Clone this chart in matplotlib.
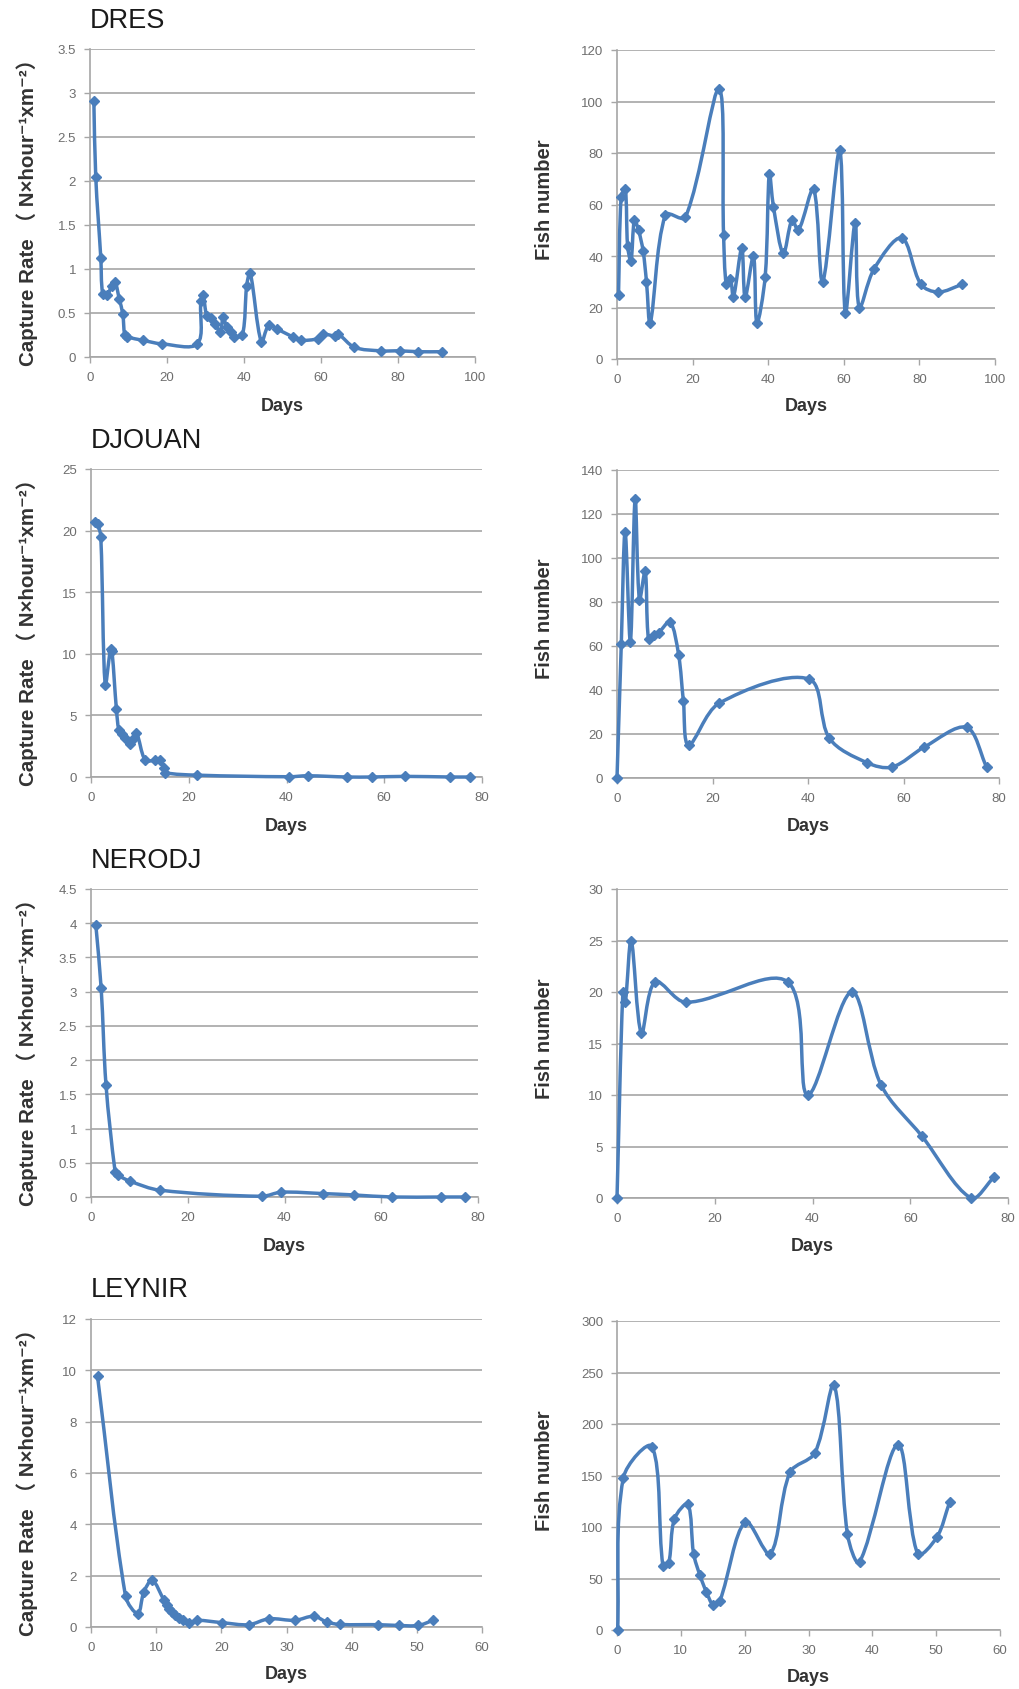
import numpy as np
import matplotlib
matplotlib.use('Agg')
import matplotlib.pyplot as plt
from matplotlib.path import Path
from matplotlib.patches import PathPatch
from matplotlib.ticker import FuncFormatter

# ---------------- DATA ----------------
dres_cr_days = [1.0, 1.5, 2.8, 3.3, 4.5, 5.6, 6.5, 7.6, 8.5, 9.0, 9.5, 13.7, 18.6, 27.9, 28.8, 29.4,
                30.3, 31.3, 32.5, 33.8, 34.6, 35.5, 36.5, 37.5, 39.6, 40.7, 41.6, 44.5, 46.4, 48.5,
                52.6, 54.7, 59.3, 60.4, 63.6, 64.5, 68.7, 75.6, 80.5, 85.3, 91.3]
dres_cr = [2.91, 2.04, 1.13, 0.72, 0.70, 0.81, 0.85, 0.66, 0.49, 0.25, 0.23, 0.19, 0.15, 0.15, 0.64, 0.70,
           0.47, 0.44, 0.38, 0.28, 0.45, 0.34, 0.28, 0.23, 0.25, 0.81, 0.96, 0.17, 0.36, 0.32,
           0.23, 0.19, 0.21, 0.26, 0.24, 0.26, 0.11, 0.07, 0.07, 0.06, 0.06]

dres_fish_days = [0.4, 1.1, 2.2, 2.8, 3.7, 4.6, 5.7, 6.9, 7.8, 8.8, 12.8, 18.1, 27.0, 28.2, 28.9, 30.0,
                  30.8, 33.0, 33.9, 36.1, 37.0, 39.2, 40.3, 41.4, 44.0, 46.3, 48.0, 52.0, 54.4, 58.9,
                  60.4, 63.0, 64.1, 68.0, 75.3, 80.4, 85.0, 91.4]
dres_fish = [25, 63, 66, 44, 38, 54, 50, 42, 30, 14, 56, 55, 105, 48, 29, 31,
             24, 43, 24, 40, 14, 32, 72, 59, 41, 54, 50, 66, 30, 81,
             18, 53, 20, 35, 47, 29, 26, 29]

djouan_cr_days = [0.9, 1.4, 2.0, 2.9, 4.0, 4.3, 5.2, 5.7, 6.3, 7.0, 7.9, 8.6, 9.3, 11.1, 13.0, 14.2,
                  14.9, 15.2, 21.7, 40.5, 44.3, 52.4, 57.5, 64.3, 73.5, 77.6]
djouan_cr = [20.7, 20.5, 19.5, 7.5, 10.4, 10.2, 5.5, 3.8, 3.5, 3.2, 2.7, 3.1, 3.6, 1.35, 1.35, 1.35,
             0.7, 0.35, 0.15, 0.02, 0.1, 0.0, 0.0, 0.05, 0.0, 0.0]

djouan_fish_days = [0.0, 0.9, 1.7, 2.8, 3.8, 4.7, 5.9, 6.6, 7.7, 8.7, 11.1, 12.9, 13.9, 15.0, 21.4,
                    40.2, 44.5, 52.3, 57.6, 64.3, 73.2, 77.4]
djouan_fish = [0, 61, 112, 62, 127, 81, 94, 63, 65, 66, 71, 56, 35, 15, 34,
               45, 18, 7, 5, 14, 23, 5]

nerodj_cr_days = [1.0, 2.1, 3.1, 5.0, 5.5, 8.1, 14.2, 35.3, 39.3, 48.0, 54.3, 62.3, 72.4, 77.4]
nerodj_cr = [3.97, 3.05, 1.64, 0.36, 0.32, 0.23, 0.10, 0.01, 0.07, 0.05, 0.03, 0.0, 0.0, 0.0]

nerodj_fish_days = [0.0, 1.2, 1.7, 2.9, 5.0, 7.8, 14.1, 34.9, 39.0, 48.0, 54.0, 62.4, 72.4, 77.1]
nerodj_fish = [0, 20, 19, 25, 16, 21, 19, 21, 10, 20, 11, 6, 0, 2]

leynir_cr_days = [1.0, 5.3, 7.2, 8.1, 9.4, 11.2, 11.6, 11.9, 12.4, 12.9, 13.5, 14.1, 15.1, 16.3, 20.1,
                  24.2, 27.3, 31.3, 34.2, 36.2, 38.2, 44.1, 47.2, 50.2, 52.5]
leynir_cr = [9.77, 1.2, 0.52, 1.36, 1.82, 1.04, 0.84, 0.71, 0.58, 0.45, 0.35, 0.26, 0.17, 0.26, 0.17,
             0.09, 0.32, 0.26, 0.42, 0.19, 0.10, 0.09, 0.06, 0.06, 0.26]

leynir_fish_days = [0.1, 1.0, 5.5, 7.2, 8.1, 9.0, 11.1, 12.0, 13.0, 14.0, 15.1, 16.1, 20.1, 24.0, 27.1,
                    31.0, 34.0, 36.1, 38.0, 44.0, 47.1, 50.1, 52.1]
leynir_fish = [0, 148, 178, 62, 65, 108, 122, 74, 53, 37, 24, 28, 105, 74, 153,
               172, 238, 93, 66, 180, 74, 90, 124]

site_names = ['DRES', 'DJOUAN', 'NERODJ', 'LEYNIR']

cr_xticks = [[0, 20, 40, 60, 80, 100], [0, 20, 40, 60, 80], [0, 20, 40, 60, 80], [0, 10, 20, 30, 40, 50, 60]]
cr_yticks = [[0, 0.5, 1, 1.5, 2, 2.5, 3, 3.5], [0, 5, 10, 15, 20, 25],
             [0, 0.5, 1, 1.5, 2, 2.5, 3, 3.5, 4, 4.5], [0, 2, 4, 6, 8, 10, 12]]
fish_xticks = [[0, 20, 40, 60, 80, 100], [0, 20, 40, 60, 80], [0, 20, 40, 60, 80], [0, 10, 20, 30, 40, 50, 60]]
fish_yticks = [[0, 20, 40, 60, 80, 100, 120], [0, 20, 40, 60, 80, 100, 120, 140],
               [0, 5, 10, 15, 20, 25, 30], [0, 50, 100, 150, 200, 250, 300]]

cr_series = [(dres_cr_days, dres_cr), (djouan_cr_days, djouan_cr),
             (nerodj_cr_days, nerodj_cr), (leynir_cr_days, leynir_cr)]
fish_series = [(dres_fish_days, dres_fish), (djouan_fish_days, djouan_fish),
               (nerodj_fish_days, nerodj_fish), (leynir_fish_days, leynir_fish)]

# ---------------- STYLE / LAYOUT ----------------
W, H = 1019, 1690
BLUE = '#4A7EBB'
GRID = '#A6A6A6'
TICK = '#6E6E6E'
LABEL_FONT = ['Liberation Sans', 'DejaVu Sans', 'Noto Sans CJK SC']

# (left, right, top, bottom) in pixels
cr_boxes = [(90, 475, 50, 358), (91, 482, 470, 778), (91, 478, 890, 1198), (91, 482, 1320, 1628)]
fish_boxes = [(617, 995, 51, 360), (617, 999, 471, 779), (617, 1008, 890, 1199), (617, 1000, 1322, 1631)]
title_y = [21, 441, 861, 1290]
days_y_cr = [407, 827, 1247, 1675]
days_y_fish = [407, 827, 1247, 1678]

fig = plt.figure(figsize=(W / 100, H / 100), dpi=100)
fig.patch.set_facecolor('white')


def add_ax(box):
    l, r, t, b = box
    return fig.add_axes([l / W, 1 - b / H, (r - l) / W, (b - t) / H])


def smooth_path(ax, box, xs, ys):
    l, r, t, b = box
    x0, x1 = ax.get_xlim()
    y0, y1 = ax.get_ylim()
    sx = (r - l) / (x1 - x0)
    sy = (b - t) / (y1 - y0)
    pts = np.column_stack([np.asarray(xs, float) * sx, np.asarray(ys, float) * sy])
    n = len(pts)
    verts = [pts[0]]
    codes = [Path.MOVETO]
    for i in range(n - 1):
        p0 = pts[i - 1] if i > 0 else pts[i]
        p1 = pts[i]
        p2 = pts[i + 1]
        p3 = pts[i + 2] if i + 2 < n else pts[i + 1]
        d01 = np.hypot(*(p1 - p0))
        d12 = np.hypot(*(p2 - p1))
        d23 = np.hypot(*(p3 - p2))
        c1 = p1 + (p2 - p0) * (d12 / (3 * (d01 + d12))) if d01 + d12 > 0 else p1
        c2 = p2 - (p3 - p1) * (d12 / (3 * (d12 + d23))) if d12 + d23 > 0 else p2
        verts += [c1, c2, p2]
        codes += [Path.CURVE4] * 3
    verts = np.array(verts)
    verts[:, 0] /= sx
    verts[:, 1] /= sy
    return Path(verts, codes)


def style_ax(ax, xticks, yticks):
    ax.set_xlim(xticks[0], xticks[-1])
    ax.set_ylim(yticks[0], yticks[-1])
    ax.set_xticks(xticks)
    ax.set_yticks(yticks)
    fmt = FuncFormatter(lambda v, p: '%g' % v)
    ax.xaxis.set_major_formatter(fmt)
    ax.yaxis.set_major_formatter(fmt)
    for s in ['top', 'right']:
        ax.spines[s].set_visible(False)
    for s in ['left', 'bottom']:
        ax.spines[s].set_color(GRID)
        ax.spines[s].set_linewidth(1.2)
    ax.grid(axis='y', color=GRID, linewidth=1.2)
    ax.set_axisbelow(True)
    ax.tick_params(axis='both', direction='out', length=4, width=1.0, color=GRID,
                   labelcolor=TICK, labelsize=9.5)
    ax.tick_params(axis='x', pad=6)
    ax.tick_params(axis='y', pad=6)
    for lab in ax.get_xticklabels() + ax.get_yticklabels():
        lab.set_family(['Liberation Sans', 'DejaVu Sans'])


def draw_series(ax, box, xs, ys):
    path = smooth_path(ax, box, xs, ys)
    patch = PathPatch(path, facecolor='none', edgecolor=BLUE, linewidth=2.5,
                      capstyle='round', joinstyle='round', clip_on=False, zorder=3)
    ax.add_patch(patch)
    ax.plot(xs, ys, linestyle='none', marker='D', markersize=5.4, color=BLUE,
            markeredgecolor=BLUE, clip_on=False, zorder=4)


cr_label = 'Capture Rate （ N×hour⁻¹xm⁻²）'

for i in range(4):
    # capture rate panel
    box = cr_boxes[i]
    ax = add_ax(box)
    style_ax(ax, cr_xticks[i], cr_yticks[i])
    draw_series(ax, box, *cr_series[i])
    l, r, t, b = box
    fig.text(l / W, 1 - title_y[i] / H, site_names[i], fontsize=19.5, ha='left', va='center',
             color='#1a1a1a', family=LABEL_FONT)
    fig.text(27 / W, 1 - ((t + b) / 2 + 3) / H, cr_label, rotation=90, fontsize=14.8, fontweight='bold',
             ha='center', va='center', color='#333333', family=LABEL_FONT)
    fig.text((l + r) / 2 / W, 1 - days_y_cr[i] / H, 'Days', fontsize=13, fontweight='bold',
             ha='center', va='center', color='#333333', family=LABEL_FONT)

    # fish number panel
    box = fish_boxes[i]
    ax = add_ax(box)
    style_ax(ax, fish_xticks[i], fish_yticks[i])
    draw_series(ax, box, *fish_series[i])
    l, r, t, b = box
    fig.text(545 / W, 1 - ((t + b) / 2 - 6) / H, 'Fish number', rotation=90, fontsize=14.5,
             fontweight='bold', ha='center', va='center', color='#333333', family=LABEL_FONT)
    fig.text((l + r) / 2 / W, 1 - days_y_fish[i] / H, 'Days', fontsize=13, fontweight='bold',
             ha='center', va='center', color='#333333', family=LABEL_FONT)

fig.savefig('out.png', dpi=100, facecolor='white')
